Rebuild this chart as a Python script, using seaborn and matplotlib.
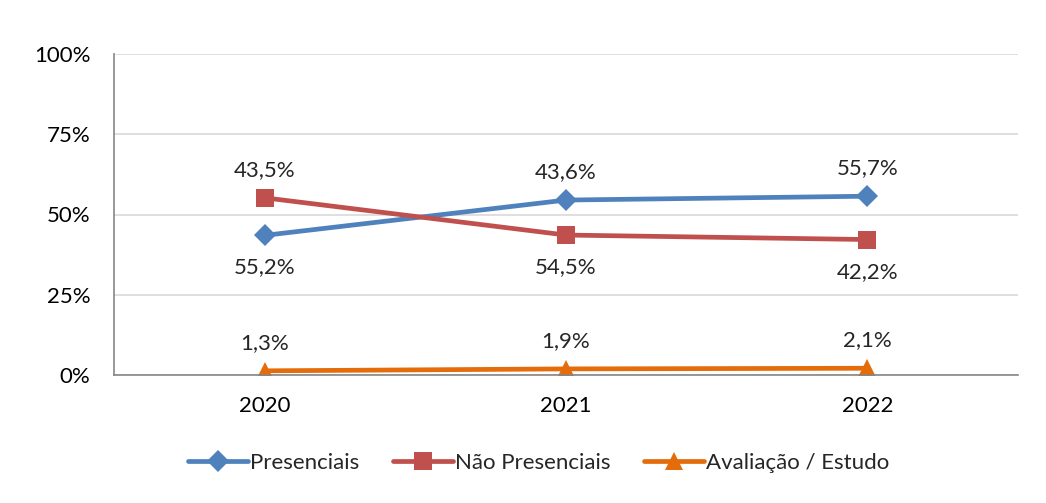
import pandas as pd
import numpy as np
import matplotlib.pyplot as plt
import seaborn as sns

anos = ['2020', '2021', '2022']
presenciais = [43.5, 54.5, 55.7]
nao_presenciais = [55.2, 43.6, 42.2]
avaliacao = [1.3, 1.9, 2.1]

# rotulos como aparecem no grafico original
rotulos_cima = ['43,5%', '43,6%', '55,7%']
rotulos_baixo = ['55,2%', '54,5%', '42,2%']
rotulos_aval = ['1,3%', '1,9%', '2,1%']

sns.set_theme(style='white')
plt.rcParams['font.family'] = ['Lato', 'DejaVu Sans']

df = pd.DataFrame({
    'ano': anos * 3,
    'valor': presenciais + nao_presenciais + avaliacao,
    'serie': ['Presenciais'] * 3 + ['Não Presenciais'] * 3 + ['Avaliação / Estudo'] * 3,
})

cores = {'Presenciais': '#4F81BD', 'Não Presenciais': '#C0504D', 'Avaliação / Estudo': '#E46C0A'}
marcadores = {'Presenciais': 'D', 'Não Presenciais': 's', 'Avaliação / Estudo': '^'}
tamanhos = {'Presenciais': 11, 'Não Presenciais': 13, 'Avaliação / Estudo': 13}

fig = plt.figure(figsize=(10.46, 5.03), dpi=100)
ax = fig.add_axes([114 / 1046, 1 - 375 / 503, (1018 - 114) / 1046, (375 - 54) / 503])

for serie in cores:
    sub = df[df['serie'] == serie]
    sns.lineplot(data=sub, x='ano', y='valor', color=cores[serie], marker=marcadores[serie],
                 markersize=tamanhos[serie], markeredgewidth=0, linewidth=3.4,
                 label=serie, ax=ax, sort=False)

ax.set_xlim(-0.5, 2.5)
ax.set_ylim(0, 100)
ax.set_yticks([0, 25, 50, 75, 100])
ax.set_yticklabels(['0%', '25%', '50%', '75%', '100%'])
ax.set_xlabel('')
ax.set_ylabel('')
ax.yaxis.grid(True, color='#D9D9D9', linewidth=1.2)
ax.set_axisbelow(True)
for s in ['top', 'right']:
    ax.spines[s].set_visible(False)
ax.spines['left'].set_color('#868686')
ax.spines['bottom'].set_color('#868686')
ax.spines['left'].set_linewidth(1.2)
ax.spines['bottom'].set_linewidth(1.2)
ax.tick_params(axis='both', labelsize=16, length=0, colors='black')
ax.tick_params(axis='x', pad=15)
ax.tick_params(axis='y', pad=17)

for i in range(3):
    topo = max(presenciais[i], nao_presenciais[i])
    base = min(presenciais[i], nao_presenciais[i])
    ax.annotate(rotulos_cima[i], (i, topo), xytext=(0, 13), textcoords='offset points',
                ha='center', va='bottom', fontsize=16)
    ax.annotate(rotulos_baixo[i], (i, base), xytext=(0, -16), textcoords='offset points',
                ha='center', va='top', fontsize=16)
    ax.annotate(rotulos_aval[i], (i, avaliacao[i]), xytext=(0, 13), textcoords='offset points',
                ha='center', va='bottom', fontsize=16)

ax.legend(loc='upper center', bbox_to_anchor=(0.47, -0.18), ncol=3, frameon=False,
          fontsize=16, handlelength=2.7, handletextpad=0.1, columnspacing=1.5)

fig.savefig('out.png', dpi=100, facecolor='white')
